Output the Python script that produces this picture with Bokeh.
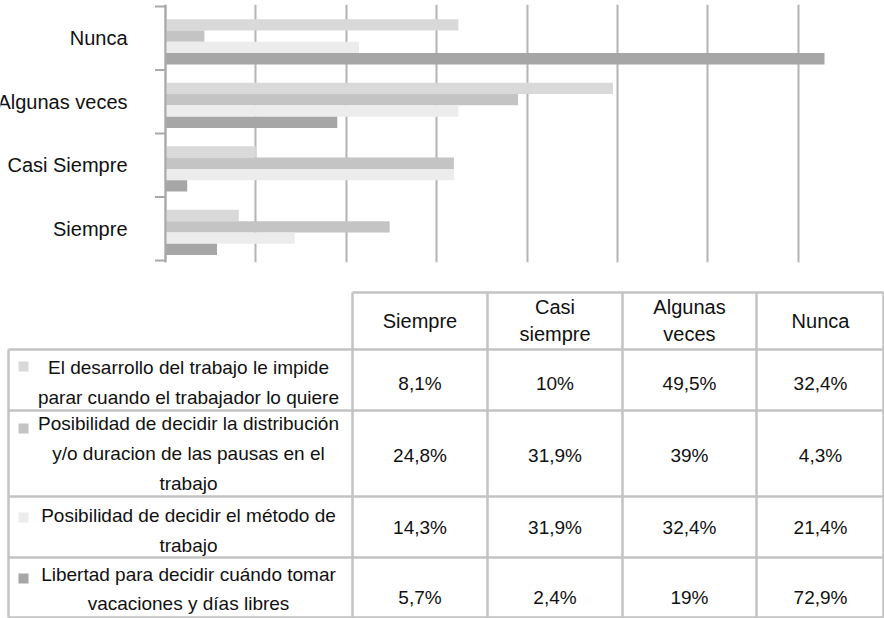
from bokeh.plotting import figure
from bokeh.models import Range1d, FixedTicker, ColumnDataSource, Span
from bokeh.layouts import column
from bokeh.core.properties import value
from bokeh.transform import dodge
from bokeh.embed import file_html
from bokeh.resources import INLINE

# ---------------- data ----------------
categories = ["Siempre", "Casi Siempre", "Algunas veces", "Nunca"]
table_headers = ["Siempre", "Casi\nsiempre", "Algunas\nveces", "Nunca"]
series_names = [
    "El desarrollo del trabajo le impide\nparar cuando el trabajador lo quiere",
    "Posibilidad de decidir la distribución\ny/o duracion de las pausas en el\ntrabajo",
    "Posibilidad de decidir el método de\ntrabajo",
    "Libertad para decidir cuándo tomar\nvacaciones y días libres",
]
impide_parar = [8.1, 10, 49.5, 32.4]
distribucion_pausas = [24.8, 31.9, 39, 4.3]
metodo_trabajo = [14.3, 31.9, 32.4, 21.4]
vacaciones = [5.7, 2.4, 19, 72.9]
series_values = [impide_parar, distribucion_pausas, metodo_trabajo, vacaciones]
series_colors = ["#d9d9d9", "#c4c4c4", "#ececec", "#a6a6a6"]
grid_ticks = [0, 10, 20, 30, 40, 50, 60, 70]

FONT = "Liberation Sans"
TXT = "#111111"
GRID = "#b3b3b3"
AXIS = "#a9a9a9"
BORDER = "#c3c3c3"

W = 884
TOP_H = 288
TOTAL_H = 618
PX_PER_UNIT = 9.04      # horizontal scale of the bar chart
ZERO_PX = 165           # position of value 0 inside the figure

# ---------------- bar chart ----------------
pos = [i + 0.5 for i in range(len(categories))]
src = ColumnDataSource(dict(cat=categories, pos=pos,
                            s0=impide_parar, s1=distribucion_pausas,
                            s2=metodo_trabajo, s3=vacaciones))

x_start = -ZERO_PX / PX_PER_UNIT
x_end = x_start + W / PX_PER_UNIT
top = figure(width=W, height=TOP_H, output_backend="svg", toolbar_location=None,
             x_range=Range1d(x_start, x_end), y_range=Range1d(-0.03, 4.03),
             y_axis_location=None, min_border=0, min_border_top=4,
             min_border_bottom=26, frame_align=False)
top.outline_line_color = None
top.xaxis.visible = False
top.ygrid.visible = False
top.xgrid.ticker = FixedTicker(ticks=grid_ticks)
top.xgrid.grid_line_color = GRID
top.xgrid.grid_line_width = 2

bar_h = 0.178
offsets = [0.21, 0.032, -0.146, -0.324]
for k in range(4):
    top.hbar(y=dodge("pos", offsets[k], range=top.y_range), left=0, right="s%d" % k,
             height=bar_h, source=src, fill_color=series_colors[k], line_color=None)

# category axis: line at 0 plus ticks between categories
top.add_layout(Span(location=0, dimension="height", line_color=AXIS, line_width=2))
boundaries = list(range(len(categories) + 1))
top.rect(x=-5 / PX_PER_UNIT, y=boundaries, width=11, height=2,
         width_units="screen", height_units="screen", fill_color=AXIS, line_color=None)

top.text(x=0, y="pos", text="cat", source=src, x_offset=-38,
         text_align="right", text_baseline="middle",
         text_font=value(FONT), text_font_size=value("20px"), text_color=TXT)

# ---------------- table ----------------
tb = figure(width=W, height=TOTAL_H - TOP_H, output_backend="svg", toolbar_location=None,
            x_range=Range1d(0, W), y_range=Range1d(TOTAL_H, TOP_H),
            x_axis_type=None, y_axis_type=None, min_border=0, frame_align=False)
tb.outline_line_color = None
tb.grid.visible = False

head_top = 292
row_edges = [349, 410, 496, 557, 617]
label_left, label_right = 8, 352
col_edges = [352, 487, 622, 756, 883]

hx0 = [label_right] + [label_left] * len(row_edges)
hx1 = [col_edges[-1]] * (len(row_edges) + 1)
hy = [head_top] + row_edges
tb.segment(x0=hx0, y0=hy, x1=hx1, y1=hy, line_color=BORDER, line_width=2.5)
vx = [label_left] + col_edges
vy0 = [row_edges[0]] + [head_top] * len(col_edges)
vy1 = [row_edges[-1]] * len(vx)
tb.segment(x0=vx, y0=vy0, x1=vx, y1=vy1, line_color=BORDER, line_width=2.5)

col_centers = [419.5, 554.5, 689, 820]
tb.text(x=col_centers, y=[320] * 4, text=table_headers, text_align="center",
        text_baseline="middle", text_font=value(FONT), text_font_size=value("20px"),
        text_line_height=1.27, text_color=TXT)

row_text_y = [382, 453, 530, 588.5]
tb.text(x=[188] * 4, y=row_text_y, text=series_names, text_align="center",
        text_baseline="middle", text_font=value(FONT), text_font_size=value("19px"),
        text_line_height=1.42, text_color=TXT)

first_line_y = [366, 428, 517, 578]
tb.scatter(x=[23] * 4, y=first_line_y, marker="square", size=10,
           fill_color=series_colors, line_color=None)

def fmt(v):
    return ("%g" % v).replace(".", ",") + "%"

value_y = [383, 455, 527, 597]
vx_all, vy_all, vt_all = [], [], []
for r, vals in enumerate(series_values):
    for c, v in enumerate(vals):
        vx_all.append(col_centers[c])
        vy_all.append(value_y[r])
        vt_all.append(fmt(v))
tb.text(x=vx_all, y=vy_all, text=vt_all, text_align="center", text_baseline="middle",
        text_font=value(FONT), text_font_size=value("19px"), text_color=TXT)

layout = column(top, tb, spacing=0)
open("out.html", "w").write(file_html(layout, INLINE))
